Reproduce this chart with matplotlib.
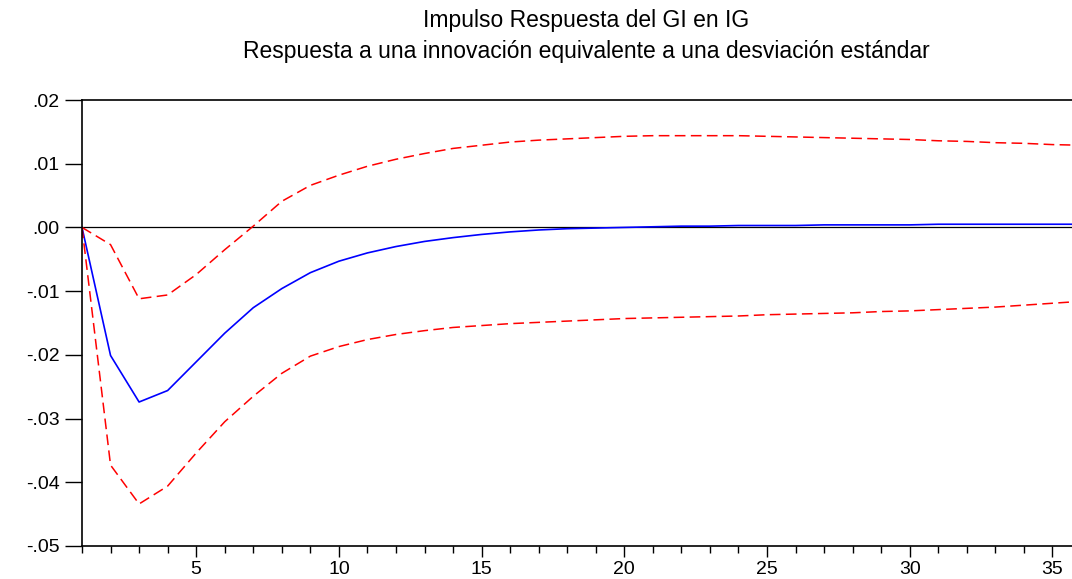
# --- Import libraries ---
import numpy as np
import matplotlib.pyplot as plt
from matplotlib.ticker import FuncFormatter, MultipleLocator

plt.rcParams['font.family'] = ['Liberation Sans', 'DejaVu Sans']

# --- Data (periods 1..36) ---
periods = list(range(1, 37))
respuesta = [0.0, -0.0201, -0.0274, -0.0256, -0.0211, -0.0166, -0.0126, -0.0096,
             -0.0071, -0.0053, -0.0040, -0.0030, -0.0022, -0.0016, -0.0011, -0.0007,
             -0.0004, -0.0002, -0.0001, 0.0000, 0.0001, 0.0002, 0.0002, 0.0003,
             0.0003, 0.0003, 0.0004, 0.0004, 0.0004, 0.0004, 0.0005, 0.0005,
             0.0005, 0.0005, 0.0005, 0.0005]
banda_sup = [0.0, -0.0027, -0.0112, -0.0106, -0.0074, -0.0035, 0.0002, 0.0041,
             0.0066, 0.0082, 0.0096, 0.0107, 0.0116, 0.0124, 0.0129, 0.0134,
             0.0137, 0.0139, 0.0141, 0.0143, 0.0144, 0.0144, 0.0144, 0.0144,
             0.0143, 0.0142, 0.0141, 0.0140, 0.0139, 0.0138, 0.0136, 0.0135,
             0.0133, 0.0132, 0.0130, 0.0129]
banda_inf = [0.0, -0.0373, -0.0434, -0.0406, -0.0354, -0.0305, -0.0265, -0.0229,
             -0.0202, -0.0187, -0.0176, -0.0168, -0.0162, -0.0157, -0.0154, -0.0151,
             -0.0149, -0.0147, -0.0145, -0.0143, -0.0142, -0.0141, -0.0140, -0.0139,
             -0.0137, -0.0136, -0.0135, -0.0134, -0.0132, -0.0131, -0.0129, -0.0127,
             -0.0125, -0.0122, -0.0119, -0.0116]

titulo = "Impulso Respuesta del GI en IG\nRespuesta a una innovación equivalente a una desviación estándar"


def fmt_y(v, pos):
    s = f"{round(v, 2):.2f}"
    if s == "-0.00":
        s = "0.00"
    return s.replace("0.", ".", 1)


# --- Figure ---
fig = plt.figure(figsize=(10.72, 5.79), dpi=100)
ax = fig.add_axes([82/1072, 1 - 546/579, 999/1072, 446/579])

ax.axhline(0, color="black", lw=0.9)
ax.plot(periods, respuesta, color="blue", lw=1.2)
ax.plot(periods, banda_sup, color="red", lw=1.1, ls=(0, (7, 3.5)))
ax.plot(periods, banda_inf, color="red", lw=1.1, ls=(0, (7, 3.5)))

ax.set_xlim(1, 36)
ax.set_ylim(-0.05, 0.02)
ax.xaxis.set_major_locator(MultipleLocator(5))
ax.xaxis.set_minor_locator(MultipleLocator(1))
ax.yaxis.set_major_locator(MultipleLocator(0.01))
ax.yaxis.set_major_formatter(FuncFormatter(fmt_y))

ax.spines['right'].set_visible(False)
for s in ax.spines.values():
    s.set_linewidth(1.2)
ax.tick_params(axis='x', which='major', direction='out', length=8, width=1, labelsize=14, pad=3)
ax.tick_params(axis='x', which='minor', direction='out', length=5, width=1)
ax.tick_params(axis='y', which='major', direction='out', length=12, width=1, labelsize=14, pad=4)

fig.text(586/1072, 1 - 36/579, titulo, ha="center", va="center", fontsize=16.5, linespacing=1.4)

plt.savefig("out.png", dpi=100)
